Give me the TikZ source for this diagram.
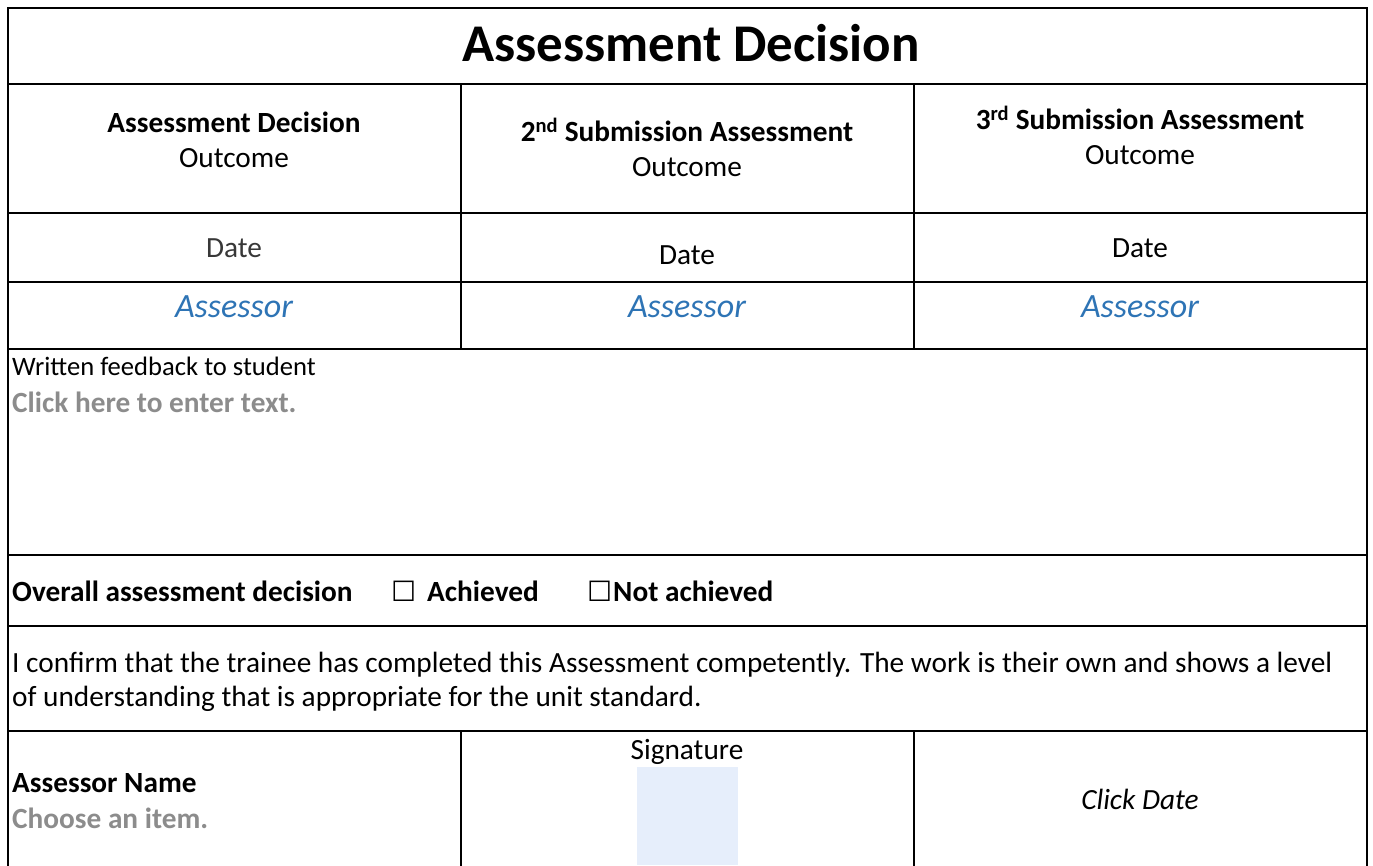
\documentclass[tikz,border=0pt]{standalone}
\usepackage{fontspec}
\setmainfont{Carlito}
\newfontfamily\symfont{DejaVu Sans}
\definecolor{assessblue}{HTML}{2E74B5}
\definecolor{phgray}{HTML}{8C8C8C}
\definecolor{sigfill}{HTML}{E6EEFB}
\begin{document}
\begin{tikzpicture}[x=1pt,y=-1pt,
  rule/.style={line width=2pt, line cap=rect},
  txt/.style={anchor=base, inner sep=0pt, font=\fontsize{29.3}{35}\selectfont},
  btxt/.style={txt, font=\fontsize{29.3}{35}\selectfont\bfseries},
  ltxt/.style={txt, anchor=base west},
  lbtxt/.style={btxt, anchor=base west},
  bluetxt/.style={txt, text=assessblue, font=\fontsize{34}{40}\selectfont\itshape},
  graytxt/.style={lbtxt, text=phgray},
  boxglyph/.style={anchor=base west, inner sep=0pt, font=\fontsize{28}{34}\selectfont\symfont}]
\useasboundingbox (0,0) rectangle (1373,865);
% signature field
\fill[sigfill] (637,767) rectangle (738,865);
% frame
\draw[rule] (8,865) -- (8,8) -- (1367,8) -- (1367,865);
\foreach \yy in {84,213,282,349,555,626,731}
  \draw[rule] (8,\yy) -- (1367,\yy);
\foreach \xx in {461,914} {
  \draw[rule] (\xx,84) -- (\xx,349);
  \draw[rule] (\xx,731) -- (\xx,865);
}
% title
\node[txt, font=\fontsize{53}{64}\selectfont\bfseries] (title) at (691,61) {Assessment Decision};
% headers
\node[btxt] (h1a) at (234,132.5) {Assessment Decision};
\node[txt] (h1b) at (234,167.5) {Outcome};
\node[btxt] (h2a) at (687,141.5) {2\textsuperscript{nd} Submission Assessment};
\node[txt] (h2b) at (687,176.5) {Outcome};
\node[btxt] (h3a) at (1140,129.5) {3\textsuperscript{rd} Submission Assessment};
\node[txt] (h3b) at (1140,164.5) {Outcome};
% dates
\node[txt, text=black!78] (d1) at (234,257.5) {Date};
\node[txt] (d2) at (687,264.5) {Date};
\node[txt] (d3) at (1140,257.5) {Date};
% assessors
\node[bluetxt] (a1) at (234,317) {Assessor};
\node[bluetxt] (a2) at (687,317) {Assessor};
\node[bluetxt] (a3) at (1140,317) {Assessor};
% feedback
\node[ltxt, font=\fontsize{26.6}{32}\selectfont] (fb) at (12,375.5) {Written feedback to student};
\node[graytxt] (fbt) at (12,412.5) {Click here to enter text.};
% overall decision
\node[lbtxt] (ov) at (12,601.5) {Overall assessment decision};
\node[boxglyph] (cb1) at (391,601.5) {☐};
\node[lbtxt] (ach) at (427,601.5) {Achieved};
\node[boxglyph] (cb2) at (587,601.5) {☐};
\node[lbtxt] (nach) at (613,601.5) {Not achieved};
% confirmation
\node[ltxt] (c1) at (12,672.5) {I confirm that the trainee has completed this Assessment competently. The work is their own and shows a level};
\node[ltxt] (c2) at (12,706.5) {of understanding that is appropriate for the unit standard.};
% bottom row
\node[lbtxt] (an) at (12,792.5) {Assessor Name};
\node[graytxt] (ci) at (12,828.5) {Choose an item.};
\node[txt] (sig) at (687,759.5) {Signature};
\node[txt, font=\fontsize{29.3}{35}\selectfont\itshape] (cd) at (1140,809.5) {Click Date};
\end{tikzpicture}
\end{document}
